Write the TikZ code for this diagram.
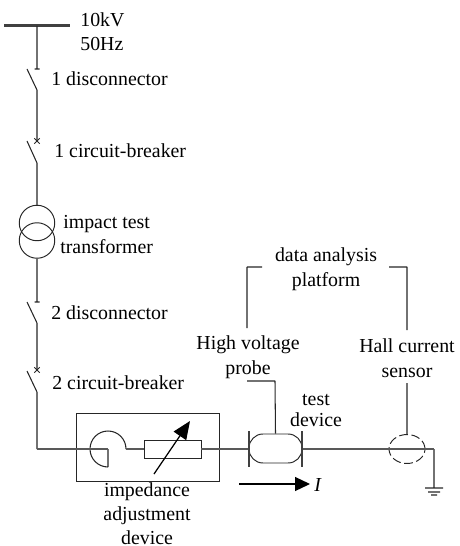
\documentclass[tikz,border=0pt]{standalone}
\usepackage{fontspec}
\setmainfont{Liberation Serif}
\usetikzlibrary{arrows.meta, shapes.geometric, shapes.misc, positioning}

\tikzset{
  wire/.style={line width=0.6pt, black!85},
  boxline/.style={line width=0.55pt, black!85},
  mainwire/.style={line width=0.9pt, black!65},
  plate/.style={line width=1.4pt, black!75},
  lbl/.style={font=\fontsize{11.3}{13.6}\selectfont, inner sep=0pt, align=center},
  lblw/.style={lbl, anchor=base west},
  brkmark/.style={cross out, draw, boxline, inner sep=0pt, minimum size=0.09cm},
  coil/.style={circle, draw, boxline, inner sep=0pt, minimum size=0.71cm},
}

\begin{document}
\begin{tikzpicture}[x=0.02cm, y=-0.02cm]
  \useasboundingbox (0, 0) rectangle (459, 546);

  % bus and first branch
  \coordinate (busl) at (4, 26);
  \coordinate (busr) at (70, 26);
  \coordinate (bustap) at (37, 26);
  \coordinate (d1top) at (37, 69);
  \coordinate (d1open) at (27, 69);
  \coordinate (d1bot) at (37, 90);
  \node[brkmark] (b1mark) at (37, 141) {};
  \coordinate (b1open) at (27, 141);
  \coordinate (b1bot) at (37, 163);
  \node[coil] (coila) at (37, 223) {};
  \node[coil] (coilb) at (37, 240.5) {};

  % second branch
  \coordinate (d2top) at (37, 302);
  \coordinate (d2open) at (27, 302);
  \coordinate (d2bot) at (37, 323);
  \node[brkmark] (b2mark) at (37, 370) {};
  \coordinate (b2open) at (27, 371);
  \coordinate (b2bot) at (37, 392);
  \coordinate (corner) at (37, 449);

  % impedance box
  \node[draw, boxline, minimum width=2.86cm, minimum height=1.36cm, inner sep=0pt] (zbox) at (147.5, 447) {};
  \coordinate (reacin) at (108, 449);
  \coordinate (reacend) at (108, 467);
  \coordinate (reacout) at (126, 449);
  \node[draw, boxline, minimum width=1.14cm, minimum height=0.36cm, inner sep=0pt] (res) at (172.5, 449) {};
  \coordinate (zarrowa) at (154, 474);
  \coordinate (zarrowb) at (190, 421);

  % test device
  \coordinate (pl1a) at (249, 431);
  \coordinate (pl1b) at (249, 467);
  \coordinate (pl1m) at (249, 449);
  \coordinate (pl2a) at (302, 431);
  \coordinate (pl2b) at (302, 467);
  \coordinate (pl2m) at (302, 449);
  \node[draw, boxline, rounded corners=0.28cm, minimum width=1.06cm, minimum height=0.58cm, inner sep=0pt] (dut) at (275.5, 448.5) {};

  % sensor and earth
  \node[ellipse, draw, boxline, dash pattern=on 5pt off 2pt, minimum width=0.72cm, minimum height=0.58cm, inner sep=0pt] (hall) at (407, 449) {};
  \coordinate (gndtop) at (434, 449);
  \coordinate (gnd) at (434, 488);
  \coordinate (hallup) at (407, 383);
  \coordinate (probel) at (247, 381);
  \coordinate (probek) at (275, 381);

  % platform brackets
  \coordinate (brla) at (247, 328);
  \coordinate (brlb) at (247, 267);
  \coordinate (brlc) at (262, 267);
  \coordinate (brra) at (407, 330);
  \coordinate (brrb) at (407, 267);
  \coordinate (brrc) at (389, 267);

  % current arrow
  \coordinate (ia) at (239, 484);
  \coordinate (ib) at (310, 484);

  % labels
  \node[lblw] (buslbl) at (80, 27) {10kV};
  \node[lblw] (freqlbl) at (80, 51) {50Hz};
  \node[lblw] (d1lbl) at (51, 86) {1 disconnector};
  \node[lblw] (b1lbl) at (54, 158) {1 circuit-breaker};
  \node[lblw] (impactlbl) at (63, 229) {impact test};
  \node[lblw] (trafolbl) at (60, 254) {transformer};
  \node[lblw] (d2lbl) at (51, 319) {2 disconnector};
  \node[lblw] (b2lbl) at (52, 389) {2 circuit-breaker};
  \node[lbl] (zlbl) at (147, 513.5) {impedance\\adjustment\\device};
  \node[lbl] (platlbl) at (326, 269) {data analysis\\[0.6pt]platform};
  \node[lbl] (probelbl) at (248, 357) {High voltage\\[0.6pt]probe};
  \node[lbl] (halllbl) at (407, 358) {Hall current\\[0.6pt]sensor};
  \node[lbl] (devlbl) at (316, 410.5) {test\\[-1.5pt]device};
  \node[lblw] (ilbl) at (314, 491) {\textit{I}};

  \draw[line width=1.7pt, black!75] (busl) -- (busr);
  \draw[wire]
    (bustap) -- (d1top)
    ([xshift=-0.05cm]d1top) -- ([xshift=0.05cm]d1top)
    (d1open) -- (d1bot)
    (d1bot) -- (b1mark.center)
    (b1open) -- (b1bot)
    (b1bot) -- (coila.north)
    (coilb.south) -- (d2top)
    ([xshift=-0.05cm]d2top) -- ([xshift=0.05cm]d2top)
    (d2open) -- (d2bot)
    (d2bot) -- (b2mark.center)
    (b2open) -- (b2bot)
    (b2bot) -- (corner)
    (reacend) -- (reacin)
    (reacout) arc[start angle=0, end angle=270, radius=0.36cm]
    (gndtop) -- (gnd)
    ([xshift=-0.18cm]gnd) -- ([xshift=0.18cm]gnd)
    ([xshift=-0.12cm, yshift=-0.08cm]gnd) -- ([xshift=0.12cm, yshift=-0.08cm]gnd)
    ([xshift=-0.06cm, yshift=-0.14cm]gnd) -- ([xshift=0.06cm, yshift=-0.14cm]gnd)
    (hallup) -- (hall.north)
    (probel) -- (probek)
    (probek) -- (dut.north)
    (brla) -- (brlb)
    (brlb) -- (brlc)
    (brra) -- (brrb)
    (brrb) -- (brrc);
  \draw[mainwire]
    (corner) -- (reacin)
    (reacout) -- (res.west)
    (res.east) -- (pl1m)
    (pl2m) -- (gndtop);
  \draw[plate]
    (pl1a) -- (pl1b)
    (pl2a) -- (pl2b);
  \draw[line width=0.7pt, -{Triangle[length=0.36cm, width=0.3cm]}] (zarrowa) -- (zarrowb);
  \draw[line width=0.7pt, -{Triangle[length=0.3cm, width=0.28cm]}] (ia) -- (ib);
\end{tikzpicture}
\end{document}
